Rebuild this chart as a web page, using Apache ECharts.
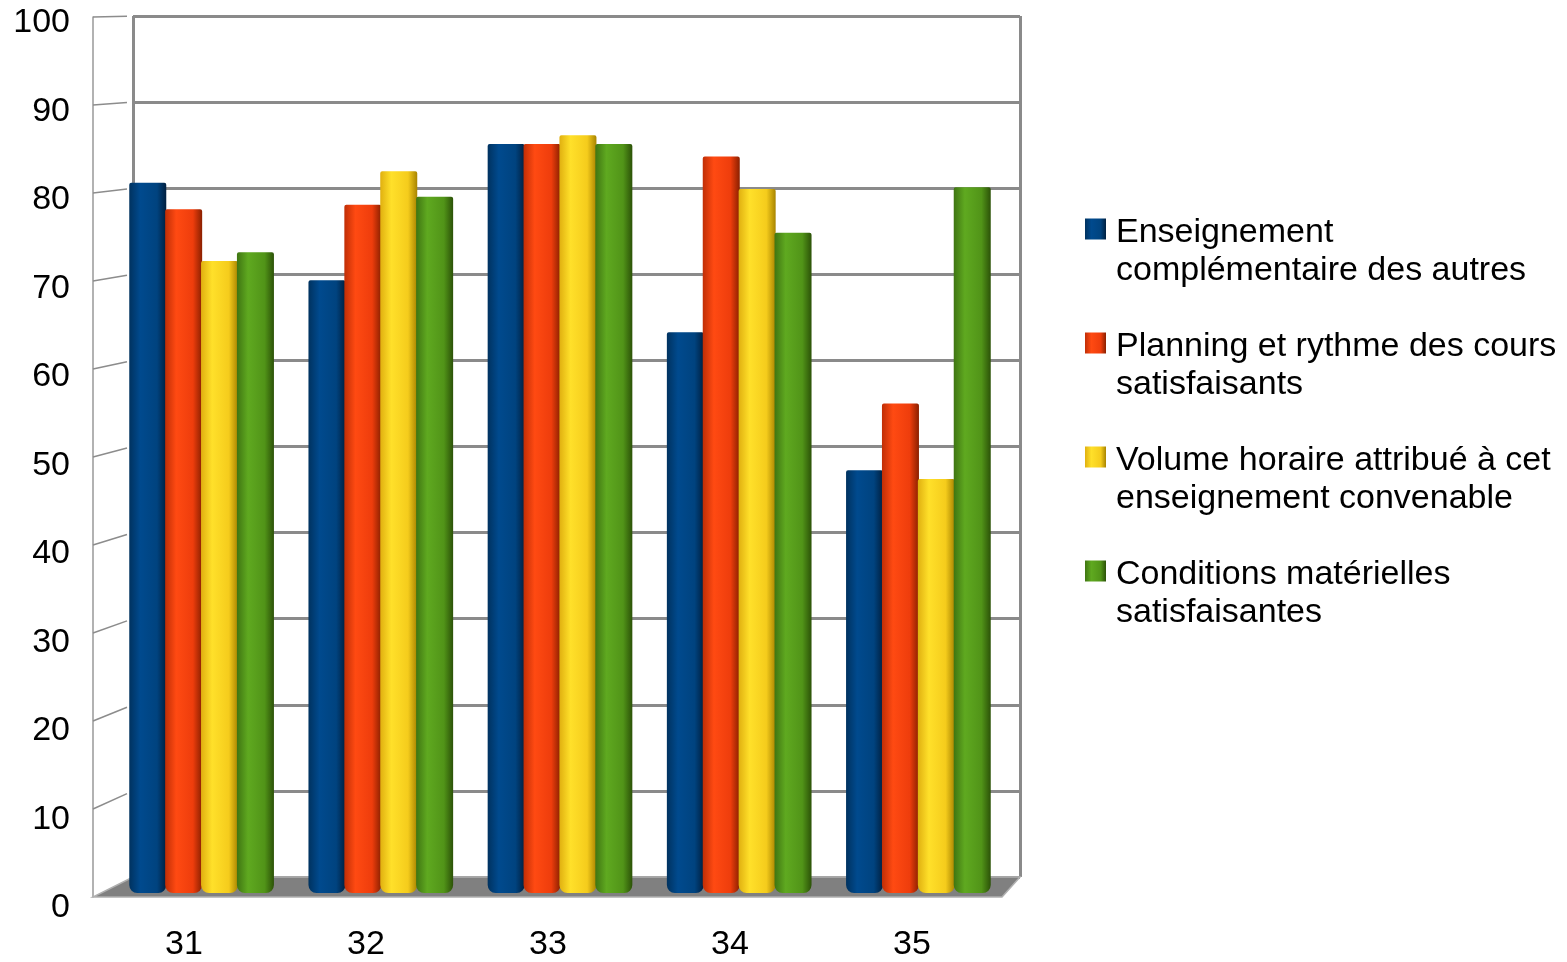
<!DOCTYPE html>
<html><head><meta charset="utf-8">
<script src="https://cdn.jsdelivr.net/npm/echarts@6/dist/echarts.min.js"></script>
<style>html,body{margin:0;padding:0;background:#fff}#c{width:1567px;height:962px}</style>
</head><body><div id="c"></div>
<script>
const categories = ['31', '32', '33', '34', '35'];
const seriesNames = [
  'Enseignement\ncomplémentaire des autres',
  'Planning et rythme des cours\nsatisfaisants',
  'Volume horaire attribué à cet\nenseignement convenable',
  'Conditions matérielles\nsatisfaisantes'
];
const enseignement = [80.8, 69.7, 85.2, 63.8, 48.1];
const planning = [77.8, 78.3, 85.2, 83.8, 55.7];
const volume = [71.9, 82.1, 86.2, 80.1, 47.1];
const conditions = [72.9, 79.2, 85.2, 75.1, 80.3];
const yTicks = [0, 10, 20, 30, 40, 50, 60, 70, 80, 90, 100];

const baseColors = ['#004586', '#ff420e', '#ffd320', '#579d1c'];
const shades = [
  ['#00325f', '#004a8e', '#00437f', '#002040'],
  ['#c02e06', '#ff4a12', '#ee3d0c', '#8a2000'],
  ['#e0b010', '#ffe02a', '#f5cc1c', '#a88400'],
  ['#3f7512', '#5fa920', '#519418', '#2c5208']
];
function grad(i) {
  const s = shades[i];
  return new echarts.graphic.LinearGradient(0, 0, 1, 0, [
    {offset: 0, color: s[0]}, {offset: 0.3, color: s[1]},
    {offset: 0.75, color: s[2]}, {offset: 1, color: s[3]}
  ]);
}
const FONT = "'Liberation Sans', Arial, sans-serif";
const chart = echarts.init(document.getElementById('c'));
const dataArr = [enseignement, planning, volume, conditions];
const GRID = '#8a8a8a';

const option = {
  animation: false,
  backgroundColor: '#fff',
  color: baseColors,
  textStyle: {fontFamily: FONT},
  grid: [
    {left: 133, right: 547, top: 16, bottom: 85},   // back wall
    {left: 93, right: 564, top: 17, bottom: 61},    // front axis
    {left: 112, right: 559, top: 14, bottom: 69},   // bars
    {left: 93, right: 564, top: 23, bottom: 54}     // y labels
  ],
  xAxis: [
    {gridIndex: 0, type: 'value', min: 0, max: 1, interval: 1,
      axisLine: {show: false}, axisTick: {show: false}, axisLabel: {show: false},
      splitLine: {show: true, lineStyle: {color: GRID, width: 3}}},
    {gridIndex: 1, type: 'category', data: categories,
      axisLine: {show: false}, axisTick: {show: false},
      axisLabel: {color: '#000', fontSize: 34, fontFamily: FONT, margin: 31}},
    {gridIndex: 2, type: 'category', data: categories, show: false},
    {gridIndex: 3, type: 'category', data: categories, show: false}
  ],
  yAxis: [
    {gridIndex: 0, type: 'value', min: 0, max: 100, interval: 10,
      axisLine: {show: false}, axisTick: {show: false}, axisLabel: {show: false},
      splitLine: {show: true, lineStyle: {color: GRID, width: 3}}},
    {gridIndex: 1, type: 'value', min: 0, max: 100, interval: 10,
      axisLine: {show: true, lineStyle: {color: '#999', width: 1.5}},
      axisTick: {show: false}, splitLine: {show: false}, axisLabel: {show: false}},
    {gridIndex: 2, type: 'value', min: 0, max: 100, show: false},
    {gridIndex: 3, type: 'value', min: 0, max: 100, interval: 10,
      axisLine: {show: false}, axisTick: {show: false}, splitLine: {show: false},
      axisLabel: {color: '#000', fontSize: 34, fontFamily: FONT, margin: 23}}
  ],
  legend: {
    orient: 'vertical', left: 1085, top: 168, padding: 0,
    itemWidth: 21, itemHeight: 21, itemGap: -8,
    icon: 'rect',
    data: seriesNames,
    formatter: function (name) {
      return '{s| }\n' + name.split('\n').map(s => '{t|' + s + '}').join('\n');
    },
    textStyle: {color: '#000', fontSize: 34, fontFamily: FONT, lineHeight: 38,
      rich: {
        s: {fontSize: 2, lineHeight: 46},
        t: {color: '#000', fontSize: 34, fontFamily: FONT, lineHeight: 38, padding: [0, 0, 0, 5]}
      }}
  },
  series: dataArr.map((d, i) => ({
    name: seriesNames[i], type: 'bar', xAxisIndex: 2, yAxisIndex: 2,
    data: d, barWidth: 37, barGap: '-3%', z: 3 + i,
    itemStyle: {color: grad(i), borderRadius: [2, 2, 8, 8]}
  }))
};
chart.setOption(option);

// 3D decorations: floor and side-wall ticks, derived from the axes
function back(v) { return chart.convertToPixel({gridIndex: 0}, [0, v]); }
function backR(v) { return chart.convertToPixel({gridIndex: 0}, [1, v]); }
function front(v) { return chart.convertToPixel({yAxisIndex: 1}, v); }
const gr1 = chart.getModel().getComponent('grid', 1).coordinateSystem.getRect();
const b0 = back(0), br0 = backR(0);
const dx = b0[0] - gr1.x, fy0 = front(0);
const elements = [{
  type: 'polygon', z: 1, silent: true,
  shape: {points: [[b0[0], b0[1]], [br0[0], br0[1]], [br0[0] - dx * 0.45, fy0], [gr1.x, fy0]]},
  style: {fill: '#808080', stroke: '#b0b0b0', lineWidth: 1.5}
}];
yTicks.forEach(v => {
  if (v === 0) return;
  const b = back(v), fy = front(v);
  elements.push({
    type: 'line', z: 1, silent: true,
    shape: {x1: gr1.x, y1: fy, x2: gr1.x + (b[0] - gr1.x) * 0.85, y2: fy + (b[1] - fy) * 0.85},
    style: {stroke: '#8c8c8c', lineWidth: 1.5}
  });
});
chart.setOption({graphic: {elements: elements}});
</script></body></html>
